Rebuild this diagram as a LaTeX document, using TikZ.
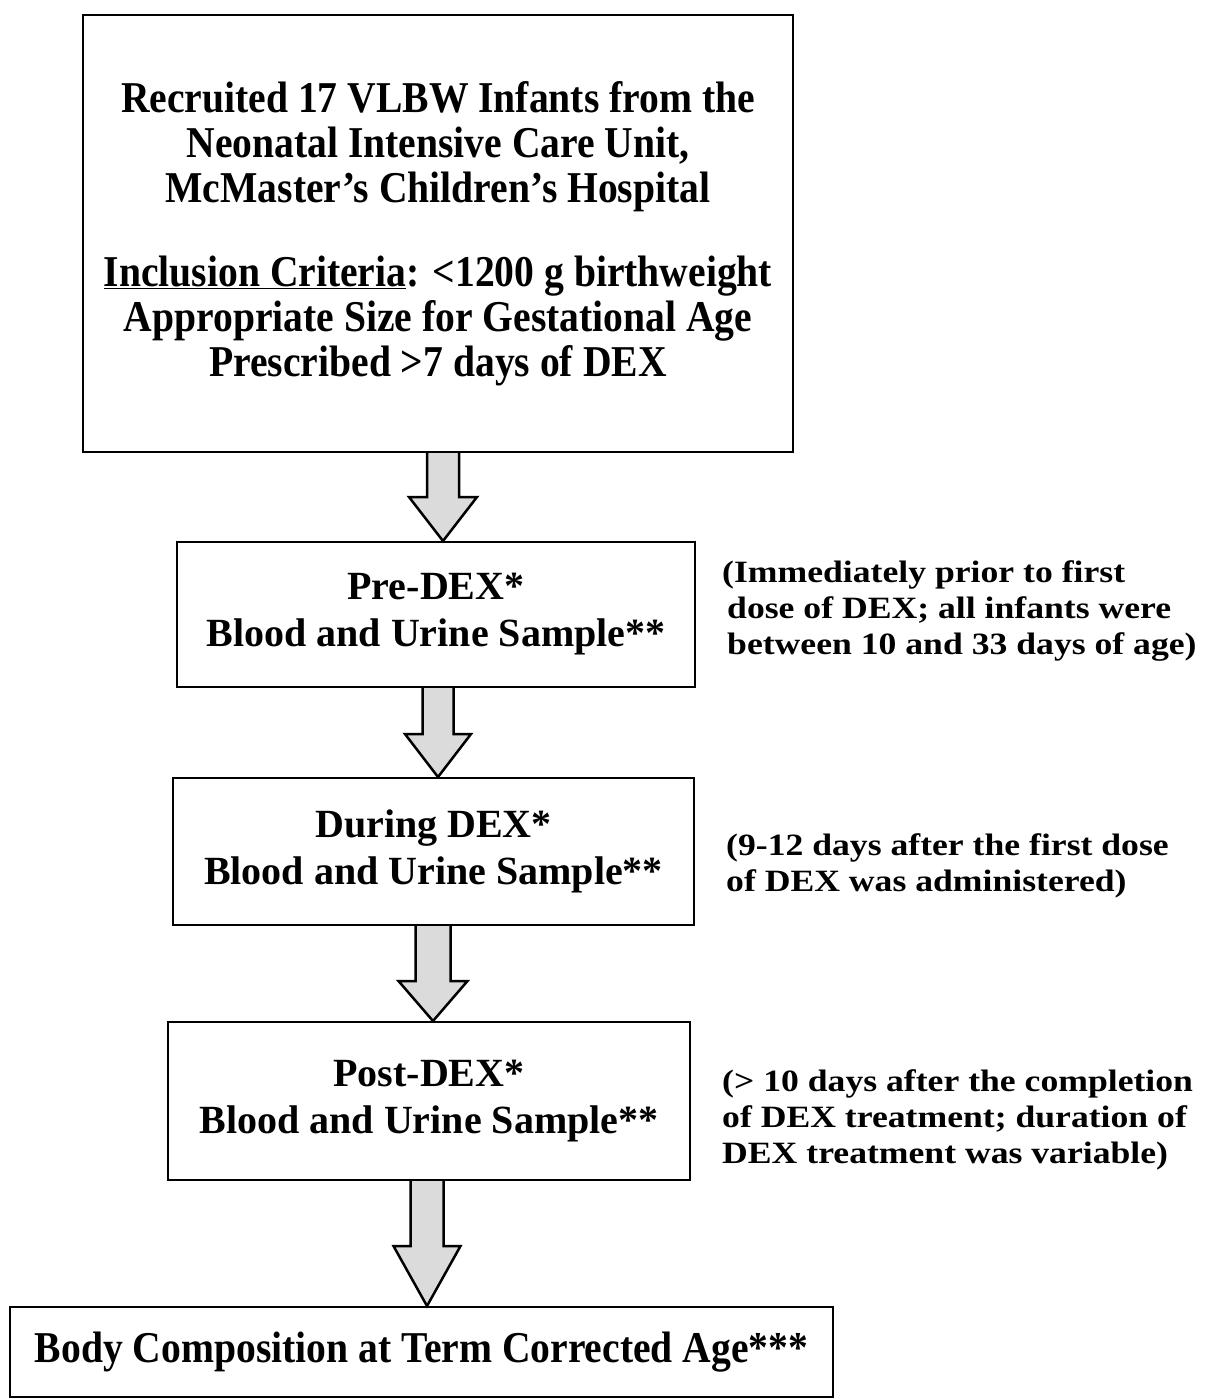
\documentclass[tikz,border=0pt]{standalone}
\usepackage{fontspec}
\setmainfont{Liberation Serif}
\newfontfamily\sidefont{Liberation Serif}[FakeStretch=1.15]
\newfontfamily\tallfont{Liberation Serif}[FakeStretch=0.9]
\usetikzlibrary{calc}
\tikzset{
  boxnode/.style={draw=black, line width=2pt, font=\fontsize{40}{47}\selectfont\bfseries,
    align=center, inner sep=0pt},
  tallbox/.style={boxnode, font=\tallfont\fontsize{44}{45}\selectfont\bfseries},
  sidenote/.style={font=\sidefont\fontsize{31}{36}\selectfont\bfseries, align=left,
    anchor=west, inner sep=0pt},
  blkarr/.style={draw=black, line width=2.5pt, fill=black!14, line join=miter},
}
% block arrow: from node, to node, centre x, shaft half width, head half width, head length
\newcommand\flowarrow[6]{%
  \draw[blkarr] let \p1=(#1.south), \p2=(#2.north) in
    (#3-#4,\y1) -- (#3-#4,\y2+#6) -- (#3-#5,\y2+#6) -- (#3,\y2)
    -- (#3+#5,\y2+#6) -- (#3+#4,\y2+#6) -- (#3+#4,\y1);}
\begin{document}
\begin{tikzpicture}[x=1pt,y=-1pt]
\useasboundingbox (0,0) rectangle (1214,1399);

\node[tallbox, minimum width=710pt, minimum height=437pt] (top) at (438,233.5)
  {Recruited 17 VLBW Infants from the\\
   Neonatal Intensive Care Unit,\\
   McMaster’s Children’s Hospital\\[39pt]
   \underline{Inclusion Criteria}: <1200 g birthweight\\
   Appropriate Size for Gestational Age\\
   Prescribed >7 days of DEX};

\node[boxnode, minimum width=518pt, minimum height=145pt] (pre) at (436,614.5)
  {Pre-DEX*\\ Blood and Urine Sample**};
\node[boxnode, minimum width=521pt, minimum height=147pt] (during) at (433.5,851.5)
  {During DEX*\\ Blood and Urine Sample**};
\node[boxnode, minimum width=522pt, minimum height=158pt] (post) at (429,1101)
  {Post-DEX*\\ Blood and Urine Sample**};
\node[tallbox, minimum width=823pt, minimum height=90pt] (body) at (421.5,1352)
  {Body Composition at Term Corrected Age***};

\node[sidenote] (prenote) at (722,611)
  {(Immediately prior to first\\
   \hspace*{5pt}dose of DEX; all infants were\\
   \hspace*{5pt}between 10 and 33 days of age)};
\node[sidenote] (durnote) at (726,866)
  {(9-12 days after the first dose\\ of DEX was administered)};
\node[sidenote] (postnote) at (722,1120)
  {(> 10 days after the completion\\ of DEX treatment; duration of\\ DEX treatment was variable)};

\flowarrow{top}{pre}{443}{16}{34}{44}
\flowarrow{pre}{during}{438}{15.5}{33}{43}
\flowarrow{during}{post}{433}{17.5}{34.5}{40}
\flowarrow{post}{body}{427}{16.5}{33.5}{60}
\end{tikzpicture}
\end{document}
